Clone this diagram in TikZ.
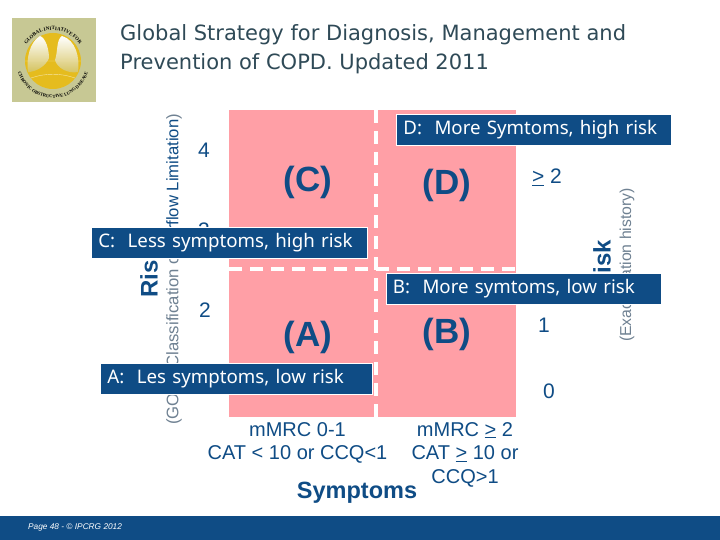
\documentclass[tikz,border=0pt]{standalone}
\usepackage{fontspec}
\setmainfont{Liberation Sans}
\newfontfamily\titlefont{DejaVu Sans}
\newfontfamily\boxfont{Noto Sans}
\newfontfamily\logofont{Liberation Serif}
\usetikzlibrary{positioning,decorations.text}
\definecolor{navy}{HTML}{0F4C85}
\definecolor{slate}{HTML}{2F4A57}
\definecolor{pinkq}{HTML}{FF9FA6}
\definecolor{muted}{HTML}{6F8192}
\definecolor{olive}{HTML}{C7C894}
\definecolor{gold}{HTML}{E5BC1E}
\tikzset{tagbox/.style={fill=navy,draw=white,line width=.8pt,text=white,anchor=west,minimum height=31pt,inner xsep=7pt,inner ysep=0pt,align=left,font=\boxfont\fontsize{18.7}{21}\selectfont},letter/.style={text=navy,font=\fontsize{35}{37}\selectfont\bfseries},num/.style={text=navy,font=\fontsize{21}{23}\selectfont},axis/.style={text=navy,align=center,font=\fontsize{20}{23.5}\selectfont},split/.style={draw=white,line width=4pt,dash pattern=on 13pt off 8pt},lungpart/.style={top color=white,bottom color=gold!45!olive}}
\newcommand{\geu}{\underline{>}}
\begin{document}
\begin{tikzpicture}[x=1pt,y=-1pt]
\useasboundingbox (0,0) rectangle (720,540);
\fill[white] (0,0) rectangle (720,540);
% logo
\fill[olive] (12,18) rectangle (96,102);
\fill[gold] (53,61) circle (28);
\shade[lungpart] (40,36) .. controls (30,42) and (26,58) .. (28,72) .. controls (36,72) and (46,66) .. (49,58) .. controls (49,50) and (46,38) .. (40,36) -- cycle;
\shade[lungpart] (62,36) .. controls (56,40) and (58,52) .. (55,60) .. controls (57,68) and (68,74) .. (78,72) .. controls (80,58) and (76,40) .. (62,36) -- cycle;
\draw[white!60!gold,line width=.4pt] (25,61) -- (81,61) (31,78) .. controls (45,73) and (61,73) .. (75,78);
\path[postaction={decorate,decoration={text along path,text align=center,text={|\logofont\fontsize{5}{6}\selectfont\bfseries|GLOBAL INITIATIVE FOR}}}] (22,61) arc[start angle=180,end angle=360,radius=31];
\path[postaction={decorate,decoration={text along path,text align=center,text={|\logofont\fontsize{4.6}{6}\selectfont\bfseries|CHRONIC OBSTRUCTIVE LUNG DISEASE}}}] (16,61) arc[start angle=180,end angle=0,radius=37];
\node[text=slate,anchor=north west,align=left,inner sep=0pt,font=\titlefont\fontsize{21}{29}\selectfont] (title) at (120,24) {Global Strategy for Diagnosis, Management and\\Prevention of COPD. Updated 2011};
% grid
\fill[pinkq] (229,110) rectangle (516,417);
\draw[split] (376,110) -- (376,417);
\draw[split] (229,269) -- (516,269);
\node[letter] (c) at (308,182) {(C)};
\node[letter] (d) at (447,185) {(D)};
\node[letter] (a) at (308,337) {(A)};
\node[letter] (b) at (447,334) {(B)};
% axis numbers
\foreach \name/\txt/\px/\py in {n4/4/204/150,n3/3/204/230,n2/2/205/310,nb/\geu\ 2/547/177,nc/1/544/325,nd/0/549/391}{
  \node[num] (\name) at (\px,\py) {\txt};
}
\node[rotate=90,text=navy,font=\fontsize{24}{26}\selectfont\bfseries] (riskl) at (149,272) {Risk};
\node[rotate=90,text=muted,font=\fontsize{16.7}{18}\selectfont] (gold) at (174,269.5) {(GOLD Classification of \textcolor{navy}{Airflow Limitation})};
\node[rotate=90,text=navy,font=\fontsize{24}{26}\selectfont\bfseries] (riskr) at (602,265) {Risk};
\node[rotate=90,text=muted,font=\fontsize{15.8}{17}\selectfont] (exac) at (627,265) {(Exacerbation history)};
% tags
\node[tagbox,text width=262pt] (tagc) at (91,243) {C:\ \ Less symptoms, high risk};
\node[tagbox,text width=261pt] (tagd) at (396,129.5) {D:\ \ More Symtoms, high risk};
\node[tagbox,text width=261pt] (tagb) at (385.5,288.5) {B:\ \ More symtoms, low risk};
\node[tagbox,text width=258pt] (taga) at (100,379) {A:\ \ Les symptoms, low risk};
% symptoms
\node[axis] (left) at (297.5,443) {mMRC 0-1\\CAT < 10 or CCQ<1};
\node[axis] (right) at (465,454.5) {mMRC \geu\ 2\\CAT \geu\ 10 or\\CCQ>1};
\node[text=navy,font=\fontsize{23.5}{25}\selectfont\bfseries] (sym) at (357,492.5) {Symptoms};
% footer
\fill[navy] (0,516) rectangle (720,540);
\node[text=white,anchor=west,inner sep=0pt,font=\fontsize{8.3}{9}\selectfont\itshape] (page) at (28,527.5) {Page 48 - © IPCRG 2012};
\end{tikzpicture}
\end{document}
